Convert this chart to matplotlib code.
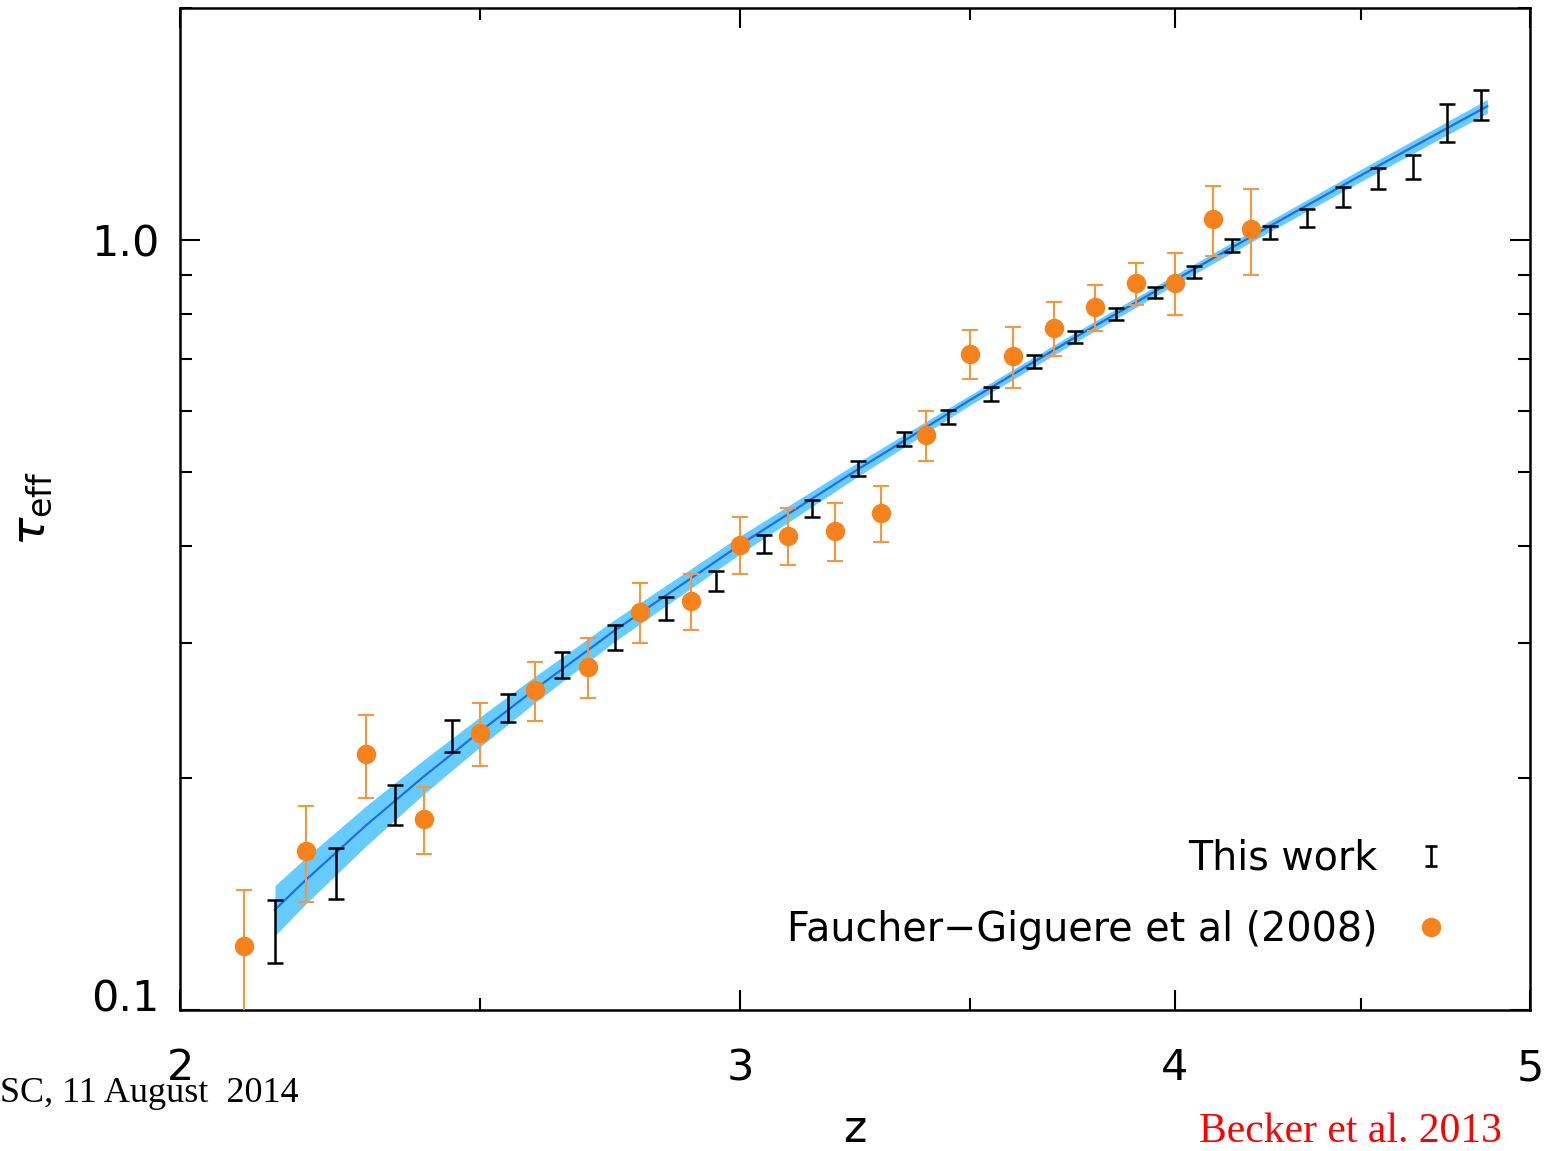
import numpy as np
import matplotlib
matplotlib.use("Agg")
import matplotlib.pyplot as plt
from matplotlib.lines import Line2D
from matplotlib.path import Path
from matplotlib.ticker import NullFormatter
from matplotlib.transforms import ScaledTranslation

# "This work" (black error bars)
z_bw = [2.15, 2.25, 2.35, 2.45, 2.55, 2.65, 2.75, 2.85, 2.95, 3.05, 3.15, 3.25, 3.35, 3.45,
        3.55, 3.65, 3.75, 3.85, 3.95, 4.05, 4.15, 4.25, 4.35, 4.45, 4.55, 4.65, 4.75, 4.85]
tau_bw = [0.127, 0.151, 0.185, 0.227, 0.247, 0.281, 0.305, 0.332, 0.361, 0.403, 0.448, 0.505, 0.551, 0.589,
          0.631, 0.695, 0.748, 0.801, 0.855, 0.909, 0.984, 1.023, 1.068, 1.138, 1.202, 1.244, 1.42, 1.50]
err_bw = [0.012, 0.0115, 0.011, 0.011, 0.0105, 0.011, 0.0113, 0.0115, 0.011, 0.011, 0.0115, 0.011, 0.0115, 0.012,
          0.013, 0.0135, 0.0135, 0.0145, 0.014, 0.016, 0.019, 0.020, 0.0285, 0.034, 0.038, 0.0445, 0.081, 0.0675]

# Faucher-Giguere et al (2008)
z_fg = [2.1, 2.2, 2.3, 2.4, 2.5, 2.6, 2.7, 2.8, 2.9, 3.0, 3.1, 3.2, 3.3, 3.4, 3.5, 3.6, 3.7, 3.8, 3.9, 4.0, 4.1, 4.2]
tau_fg = [0.121, 0.161, 0.215, 0.177, 0.229, 0.260, 0.279, 0.329, 0.340, 0.402, 0.413, 0.419, 0.442, 0.558,
          0.711, 0.707, 0.769, 0.818, 0.879, 0.879, 1.065, 1.032]
err_fg = [0.022, 0.023, 0.0265, 0.0175, 0.0215, 0.023, 0.025, 0.029, 0.0285, 0.034, 0.035, 0.036, 0.037, 0.042,
          0.052, 0.064, 0.062, 0.056, 0.055, 0.081, 0.111, 0.131]

# best-fit curve and its band
z_fit = [2.15, 2.2, 2.25, 2.3, 2.4, 2.5, 2.6, 2.75, 3.0, 3.25, 3.5, 3.75, 4.0, 4.25, 4.5, 4.87]
tau_fit = [0.135, 0.1475, 0.160, 0.1735, 0.201, 0.230, 0.261, 0.311, 0.402, 0.504, 0.619, 0.747,
           0.887, 1.042, 1.212, 1.491]
fit_half = [0.0101, 0.0102, 0.0103, 0.0104, 0.0103, 0.0103, 0.0102, 0.0102, 0.0108, 0.0106, 0.0093,
            0.011, 0.013, 0.017, 0.022, 0.031]

ORANGE = '#F7821B'
BLUE_BAND = '#66CCFF'
BLUE_LINE = '#1F6FE3'

plt.rcParams['font.family'] = ['DejaVu Sans']
fig = plt.figure(figsize=(15.49, 11.51), dpi=100)
ax = fig.add_axes([180/1549, 141/1151, 1350/1549, 1002/1151])

ax.set_xscale('function', functions=(lambda z: np.log10(1 + z), lambda u: 10**u - 1))
ax.set_yscale('log')

zf = np.array(z_fit)
tf = np.array(tau_fit)
hf = np.array(fit_half)
ax.fill_between(zf, tf - hf, tf + hf, color=BLUE_BAND, lw=0, zorder=1)
ax.plot(zf, tf, color=BLUE_LINE, lw=1.6, zorder=2)

ax.errorbar(z_bw, tau_bw, yerr=err_bw, fmt='none', ecolor='black', elinewidth=1.8,
            capsize=5.8, capthick=1.8, zorder=3)
ax.errorbar(z_fg, tau_fg, yerr=err_fg, fmt='o', color=ORANGE, ms=13, mec=ORANGE,
            ecolor='#F7963F', elinewidth=1.5, capsize=6, capthick=1.5, zorder=4)

ax.set_xlim(2, 5)
ax.set_ylim(0.1, 2.0)

ax.set_xticks([2, 3, 4, 5])
ax.set_xticklabels(['2', '3', '4', '5'])
ax.set_xticks([2.5, 3.5, 4.5], minor=True)
ax.xaxis.set_minor_formatter(NullFormatter())
ax.set_yticks([0.1, 1.0])
ax.set_yticklabels(['0.1', '1.0'])
ax.set_yticks([0.2, 0.3, 0.4, 0.5, 0.6, 0.7, 0.8, 0.9, 2.0], minor=True)
ax.yaxis.set_minor_formatter(NullFormatter())

ax.tick_params(which='both', direction='in', top=True, right=True, width=1.5, color='black')
ax.tick_params(which='major', length=14.5)
ax.tick_params(which='minor', length=8.6)
ax.tick_params(axis='x', which='major', pad=27, labelsize=31)
ax.tick_params(axis='y', which='major', pad=15, labelsize=31)
for s in ax.spines.values():
    s.set_linewidth(1.8)

# lift the bottom y label a bit, as in the original
lab = ax.yaxis.get_major_ticks()[0].label1
lab.set_transform(lab.get_transform() + ScaledTranslation(0, 0.15, fig.dpi_scale_trans))

ax.set_xlabel('z', fontsize=32)
ax.xaxis.set_label_coords(0.5, -0.098)
ax.set_ylabel(r'$\tau_{\rm eff}$', fontsize=34)
ax.yaxis.set_label_coords(-0.093, 0.5)

# legend
ibar = Path([(-0.55, 1), (0.55, 1), (0, 1), (0, -1), (-0.55, -1), (0.55, -1)],
            [Path.MOVETO, Path.LINETO, Path.MOVETO, Path.LINETO, Path.MOVETO, Path.LINETO])
h_bw = Line2D([], [], ls='none', marker=ibar, ms=15, mew=1.9, color='black', fillstyle='none')
h_fg = Line2D([], [], ls='none', marker='o', ms=13, color=ORANGE, mec=ORANGE)
ax.legend([h_bw, h_fg], ['This work', 'Faucher\u2212Giguere et al (2008)'],
          loc='lower right', bbox_to_anchor=(0.953, 0.044), markerfirst=False, frameon=False,
          fontsize=28.5, handlelength=1.0, handletextpad=0.85, labelspacing=0.8,
          borderpad=0.4, borderaxespad=0)

fig.text(0.0, 49/1151, 'SC, 11 August  2014', family='Liberation Serif', fontsize=26,
         ha='left', va='baseline', color='black')
fig.text(1502/1549, 9/1151, 'Becker et al. 2013', family='Liberation Serif', fontsize=30,
         ha='right', va='baseline', color='red')

fig.savefig('out.png', dpi=100)
